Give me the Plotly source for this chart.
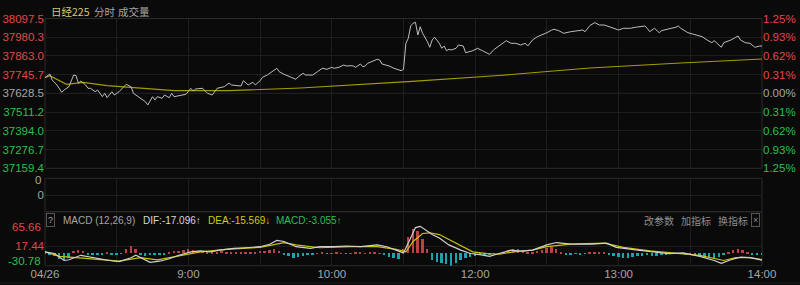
import plotly.graph_objects as go

W, H = 800, 285
prev_close = 37628.5

# ---------------- data ----------------
price_levels = [38097.5, 37980.3, 37863.0, 37745.7, 37628.5, 37511.2, 37394.0, 37276.7, 37159.4]
pct_labels = ["1.25%", "0.93%", "0.62%", "0.31%", "0.00%", "0.31%", "0.62%", "0.93%", "1.25%"]

# (minute since open, price)
price_pts = [
    (0, 37726.8), (2, 37750.0), (3, 37712.4), (5, 37681.1), (7, 37635.4), (8, 37649.8), (10, 37670.5),
    (12, 37743.7), (13, 37739.3), (14, 37691.7), (15, 37706.1), (17, 37681.1), (18, 37660.4), (19, 37660.4),
    (21, 37639.1), (22, 37649.8), (24, 37607.8), (25, 37629.1), (26, 37601.6), (28, 37639.1), (29, 37618.5),
    (31, 37639.1), (33, 37670.5), (34, 37685.5), (36, 37670.5), (37, 37629.1), (39, 37607.8), (40, 37597.8),
    (42, 37576.5), (43, 37555.9), (45, 37607.8), (46, 37587.2), (47, 37607.8), (49, 37597.8), (50, 37618.5),
    (52, 37601.6), (53, 37629.1), (54, 37607.8), (56, 37614.1), (59, 37622.9), (61, 37660.4), (62, 37643.5),
    (63, 37656.1), (66, 37660.4), (67, 37643.5), (68, 37629.1), (70, 37618.5), (71, 37639.1), (72, 37660.4),
    (75, 37670.5), (77, 37693.6), (78, 37681.1), (80, 37676.7), (82, 37674.8), (83, 37708.0), (84, 37695.5),
    (85, 37681.1), (87, 37698.0), (88, 37681.1), (90, 37708.0), (91, 37729.3), (93, 37743.7), (94, 37754.4),
    (96, 37770.6), (97, 37785.7), (98, 37764.4), (100, 37748.1), (103, 37729.3), (105, 37716.8), (106, 37733.1),
    (108, 37754.4), (109, 37743.7), (112, 37743.7), (114, 37764.4), (116, 37785.7), (118, 37779.4), (120, 37791.9),
    (121, 37785.7), (123, 37791.9), (125, 37806.3), (126, 37800.1), (128, 37802.0), (129, 37800.1), (130, 37791.9),
    (132, 37812.6), (133, 37795.7), (134, 37800.1), (135, 37817.0), (137, 37827.0), (139, 37842.0), (140, 37837.7),
    (141, 37812.6), (144, 37800.1), (146, 37785.7), (149, 37770.6), (150, 37779.4), (151, 37942.2), (152, 37973.5),
    (153, 38050.6), (154, 38067.5), (155, 38073.7), (156, 37994.2), (157, 38046.2), (158, 38004.8), (160, 37952.2),
    (161, 37917.2), (162, 37962.9), (163, 37979.8), (165, 37942.2), (166, 37910.9), (167, 37925.3), (168, 37895.9),
    (169, 37904.7), (170, 37900.3), (172, 37910.9), (173, 37931.6), (175, 37925.3), (176, 37883.4), (179, 37895.9),
    (181, 37910.9), (183, 37895.9), (186, 37873.3), (188, 37904.7), (190, 37925.3), (193, 37958.5), (195, 37942.2),
    (197, 37942.2), (199, 37931.6), (201, 37942.2), (202, 37925.3), (204, 37962.9), (206, 37983.6), (208, 37994.2),
    (210, 38008.6), (212, 38025.5), (213, 38029.9), (215, 38021.1), (217, 38004.8), (220, 38014.9), (222, 38019.2),
    (225, 38025.5), (226, 38014.9), (228, 38053.7), (230, 38071.2), (232, 38056.8), (234, 38056.8), (236, 38046.2),
    (238, 38036.2), (240, 38025.5), (242, 38036.2), (245, 38036.2), (247, 38042.4), (249, 38046.2), (251, 38050.6),
    (252, 38036.2), (253, 38014.9), (255, 38036.2), (257, 38008.6), (258, 38021.1), (260, 38029.9), (262, 38036.2),
    (264, 38042.4), (265, 38050.6), (266, 38036.2), (268, 38021.1), (269, 38008.6), (271, 38000.5), (273, 37994.2),
    (275, 37983.6), (277, 37962.9), (279, 37946.0), (280, 37958.5), (282, 37931.6), (283, 37917.2), (284, 37946.0),
    (287, 37962.9), (289, 37979.8), (290, 37987.9), (291, 37962.9), (293, 37946.0), (295, 37942.2), (297, 37917.2),
    (299, 37925.3), (300, 37925.3),
]

avg_pts = [
    (0, 37726.8), (2, 37739.3), (9, 37685.5), (16, 37698.0), (26, 37676.7), (40, 37660.4), (54, 37645.4),
    (77, 37645.4), (107, 37662.3), (150, 37700.0), (152, 37701.8), (190, 37740.6), (228, 37787.6),
    (266, 37818.9), (300, 37843.9),
]

dif_pts = [
    (0, 3.0), (4, -1.0), (8, -18.0), (10, -16.3), (15, -5.3), (19, -9.7), (23, -13.7), (27, -18.0), (31, -20.6),
    (36, -11.2), (38, -5.3), (41, -13.7), (44, -22.4), (48, -19.8), (52, -13.7), (56, -5.3), (61, 3.0), (65, 5.6),
    (69, 3.0), (73, 7.4), (79, 11.7), (84, 13.2), (90, 15.7), (94, 21.8), (97, 31.0), (100, 28.4), (103, 20.1),
    (105, 15.7), (111, 11.7), (115, 15.7), (121, 15.7), (126, 17.5), (132, 15.7), (139, 20.1), (143, 15.7),
    (147, 7.4), (150, 0.5), (153, 37.1), (155, 62.5), (157, 65.66), (159, 58.2), (162, 45.5), (165, 37.1),
    (169, 20.1), (174, 7.4), (178, -1.0), (182, -3.6), (186, -7.9), (190, -1.0), (195, 7.4), (199, 4.8),
    (204, 7.4), (210, 20.1), (214, 25.9), (220, 21.8), (229, 21.8), (235, 24.4), (239, 14.2), (248, 7.4),
    (256, 3.0), (261, -1.0), (267, 0.5), (274, -7.9), (280, -18.0), (283, -24.9), (287, -16.3), (291, -9.7),
    (295, -11.2), (300, -17.096),
]

dea_pts = [
    (0, 3.0), (6, -7.9), (13, -11.2), (23, -16.3), (31, -19.8), (40, -11.2), (47, -16.3), (55, -7.9), (65, 3.0),
    (76, 9.1), (90, 14.2), (100, 25.9), (105, 20.1), (115, 13.2), (128, 15.7), (139, 15.7), (147, 9.1),
    (151, 3.0), (154, 28.4), (158, 48.0), (161, 49.8), (165, 45.5), (169, 32.8), (174, 17.5), (179, 3.0),
    (185, -1.0), (190, -2.8), (196, 3.0), (204, 7.4), (210, 15.7), (220, 21.8), (234, 24.4), (242, 14.2),
    (253, 5.6), (264, 0.5), (274, -5.3), (284, -18.0), (289, -11.2), (295, -11.2), (300, -15.569),
]

# MACD histogram, one value every 2 minutes (0..300)
hist_vals = [
    -1, -2, -6, -14, -17, -12, 5, 9, 6, -3,
    -2, -3, -2, 2, -2, -3, -1, 10, 17, 12,
    -4, -6, -5, -4, -3, -2, 3, 5, 7, 9,
    10, 8, 6, 5, 3, 3, 4, 5, 4, 3,
    4, 3, 4, 3, 4, 5, 6, 9, 10, 6,
    -3, -7, -11, -9, -7, -5, -3, 1, 2, -1,
    1, 2, 1, -1, 1, 2, 2, 1, 3, 2,
    1, -5, -9, -12, -13, 10, 40, 60, 55, 35,
    12, -16, -20, -24, -27, -30.78, -23, -17, -12, -8,
    -6, -5, -3, -2, -1, 1, 3, 8, 12, 10,
    7, 4, 3, 6, 9, 14, 16, 10, 4, -2,
    -2, -1, -2, -1, 2, 3, 3, 2, -3, -6,
    -9, -10, -10, -9, -7, -6, -5, -6, -7, -5,
    -3, -1, 1, -1, -2, -2, -3, -4, -6, -9,
    -10, -9, -5, 3, 8, 12, 9, 4, -3, -4,
    -3,
]
hist_t = list(range(0, 301, 2))

macd_levels = [65.66, 17.44, -30.78]
dif_last, dea_last, macd_last = -17.096, -15.569, -3.055

x_ticks = [0, 30, 60, 90, 120, 150, 180, 210, 240, 270, 300]
x_labels = ["04/26", "", "9:00", "", "10:00", "", "12:00", "", "13:00", "", "14:00"]

# ---------------- style ----------------
BG = "#0a0a0a"
GRID = "#1e1e1e"
BORDER = "#2a2a2a"
RED = "#e04848"
GREEN = "#2ebf4c"
GREY = "#a6a6a6"
NUM_FONT = "Liberation Sans, Arial, sans-serif"
CJK_FONT = "Noto Sans CJK SC, sans-serif"

X0, X1 = 45, 762
MAIN_T, MAIN_B = 18.5, 168.3
VOL_T, VOL_B = 178.3, 211.7
MACD_T, MACD_B = 211.7, 265.7


def py(y):
    return 1 - y / H


def px(x):
    return x / W


def colored(val, text):
    if val > prev_close + 1e-6:
        c = RED
    elif val < prev_close - 1e-6:
        c = GREEN
    else:
        c = GREY
    return f'<span style="color:{c}">{text}</span>'


left_text = [colored(v, f"{v:.1f}") for v in price_levels]
right_text = [colored(v, t) for v, t in zip(price_levels, pct_labels)]

fig = go.Figure()

fig.add_trace(go.Scatter(x=[p[0] for p in avg_pts], y=[p[1] for p in avg_pts], mode="lines",
                         line=dict(color="#a39c00", width=1.2), xaxis="x", yaxis="y", hoverinfo="skip"))
fig.add_trace(go.Scatter(x=[p[0] for p in price_pts], y=[p[1] for p in price_pts], mode="lines",
                         line=dict(color="#bdbdbd", width=1), xaxis="x", yaxis="y", hoverinfo="skip"))
fig.add_trace(go.Scatter(x=[0], y=[prev_close], mode="markers", marker=dict(opacity=0),
                         xaxis="x", yaxis="y2", hoverinfo="skip"))
fig.add_trace(go.Scatter(x=[0], y=[0], mode="markers", marker=dict(opacity=0),
                         xaxis="x2", yaxis="y3", hoverinfo="skip"))

bar_colors = ["#bb4242" if v >= 0 else "#1aa4ae" for v in hist_vals]
fig.add_trace(go.Bar(x=hist_t, y=hist_vals, marker=dict(color=bar_colors, line=dict(width=0)),
                     width=0.8, xaxis="x3", yaxis="y4", hoverinfo="skip"))
fig.add_trace(go.Scatter(x=[p[0] for p in dea_pts], y=[p[1] for p in dea_pts], mode="lines",
                         line=dict(color="#c9c200", width=1.2), xaxis="x3", yaxis="y4", hoverinfo="skip"))
fig.add_trace(go.Scatter(x=[p[0] for p in dif_pts], y=[p[1] for p in dif_pts], mode="lines",
                         line=dict(color="#d0d0d0", width=1.2), xaxis="x3", yaxis="y4", hoverinfo="skip"))

xdom = [px(X0), px(X1)]
xcommon = dict(domain=xdom, range=[0, 300], tickvals=x_ticks, showgrid=True, gridcolor=GRID,
               gridwidth=1, zeroline=False, showline=False, ticks="", fixedrange=True, automargin=False)

macd_scale = (macd_levels[0] - macd_levels[2]) / (MACD_B - 226.3)
macd_top = macd_levels[0] + (226.3 - MACD_T) * macd_scale

fig.update_layout(
    width=W, height=H, margin=dict(l=0, r=0, t=0, b=0, autoexpand=False),
    paper_bgcolor=BG, plot_bgcolor=BG, showlegend=False, bargap=0,
    font=dict(family=NUM_FONT, size=11, color=GREY),
    xaxis=dict(**xcommon, anchor="y", showticklabels=False),
    yaxis=dict(domain=[py(MAIN_B), py(MAIN_T)], range=[price_levels[-1], price_levels[0]],
               tickvals=price_levels, ticktext=left_text, showgrid=True, gridcolor=GRID,
               zeroline=False, ticks="", side="left", anchor="x", tickfont=dict(size=11.5),
               automargin=False),
    yaxis2=dict(overlaying="y", side="right", range=[price_levels[-1], price_levels[0]],
                tickvals=price_levels, ticktext=right_text, showgrid=False, zeroline=False,
                ticks="", anchor="x", tickfont=dict(size=11.5), automargin=False),
    xaxis2=dict(**xcommon, anchor="y3", showticklabels=False),
    yaxis3=dict(domain=[py(VOL_B), py(VOL_T)], range=[0, 2], tickvals=[1, 2], ticktext=["0", ""],
                showgrid=True, gridcolor=GRID, zeroline=False, ticks="", anchor="x2",
                tickfont=dict(size=11.5), automargin=False),
    xaxis3=dict(**xcommon, anchor="y4", showticklabels=True, ticktext=x_labels,
                tickfont=dict(size=11.5, color=GREY)),
    yaxis4=dict(domain=[py(MACD_B), py(MACD_T)], range=[macd_levels[2], macd_top],
                tickvals=[macd_levels[1]], ticktext=[f'<span style="color:{RED}">{macd_levels[1]:.2f}</span>'],
                showgrid=True, gridcolor=GRID, zeroline=False, ticks="", anchor="x3",
                tickfont=dict(size=11.5), automargin=False),
)

shapes = []
for (t, b) in [(MAIN_T, MAIN_B), (VOL_T, VOL_B), (MACD_T, MACD_B)]:
    shapes.append(dict(type="rect", xref="paper", yref="paper", x0=px(X0), x1=px(X1), y0=py(b), y1=py(t),
                       line=dict(color=BORDER, width=1), fillcolor="rgba(0,0,0,0)", layer="below"))
shapes.append(dict(type="line", xref="paper", yref="y", x0=px(X0), x1=px(X1), y0=prev_close, y1=prev_close,
                   line=dict(color="#333333", width=1), layer="below"))
shapes.append(dict(type="line", xref="paper", yref="paper", x0=0, x1=1, y0=py(283), y1=py(283),
                   line=dict(color="#1e1e1e", width=1)))
fig.update_layout(shapes=shapes)

ann = []


def add_text(x, y, text, color, size=11, font=CJK_FONT, anchor="left", **kw):
    ann.append(dict(x=px(x), y=py(y), xref="paper", yref="paper", text=text, showarrow=False,
                    xanchor=anchor, yanchor="middle", font=dict(family=font, size=size, color=color), **kw))


add_text(49, 11, "日经225", "#d4cb78", size=10.5)
add_text(92, 11, "分时", GREY, size=10.5)
add_text(116, 11, "成交量", GREY, size=10.5)

add_text(43, 180, "0", GREY, size=11.5, font=NUM_FONT, anchor="right")
add_text(43, 227, f"{macd_levels[0]:.2f}", RED, size=11.5, font=NUM_FONT, anchor="right")
add_text(43, 261, f"{macd_levels[2]:.2f}", GREEN, size=11.5, font=NUM_FONT, anchor="right")

add_text(50.5, 220, "?", GREY, size=9, font=NUM_FONT, anchor="center",
         bordercolor="#555555", borderwidth=1, borderpad=1)
add_text(61, 220, "MACD (12,26,9)", GREY, size=10, font=NUM_FONT)
add_text(141, 220, f"DIF:{dif_last:.3f}↑", "#d8d8d8", size=10, font=NUM_FONT)
add_text(206, 220, f"DEA:{dea_last:.3f}↓", "#d2ca00", size=10, font=NUM_FONT)
add_text(274, 220, f"MACD:{macd_last:.3f}↑", GREEN, size=10, font=NUM_FONT)
add_text(642, 220, "改参数", "#8e8e8e", size=10)
add_text(679, 220, "加指标", "#8e8e8e", size=10)
add_text(716, 220, "换指标", "#8e8e8e", size=10)
add_text(755, 220, "×", "#8e8e8e", size=9, font=NUM_FONT, anchor="center",
         bordercolor="#555555", borderwidth=1, borderpad=1)

fig.update_layout(annotations=ann)

fig.write_html("out.html")
